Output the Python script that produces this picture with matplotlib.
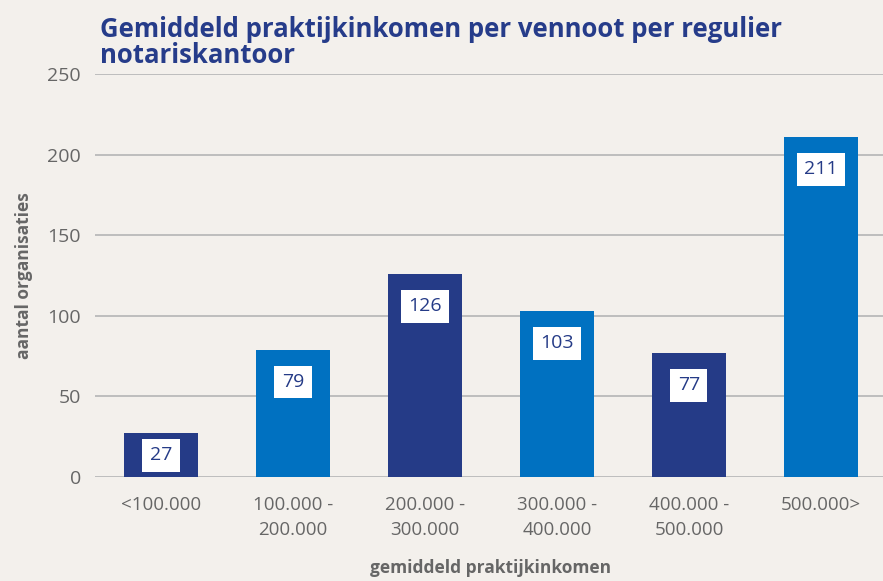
import matplotlib
matplotlib.use('Agg')
import matplotlib.pyplot as plt

categories = ['<100.000', '100.000 -\n200.000', '200.000 -\n300.000',
              '300.000 -\n400.000', '400.000 -\n500.000', '500.000>']
values = [27, 79, 126, 103, 77, 211]
y_ticks = [0, 50, 100, 150, 200, 250]

dark = '#253b87'
light = '#0071c1'
bg = '#f3f0ec'
grey = '#666666'
bar_colors = [dark, light, dark, light, dark, light]

plt.rcParams['font.family'] = ['Open Sans', 'DejaVu Sans']

fig = plt.figure(figsize=(8.83, 5.81), dpi=100, facecolor=bg)
ax = fig.add_axes([0.1076, 0.179, 0.8924, 0.6936], facecolor=bg)

x = range(len(categories))
bars = ax.bar(x, values, width=0.56, color=bar_colors, zorder=3)

ax.set_ylim(0, 250)
ax.set_xlim(-0.5, 5.47)
ax.set_yticks(y_ticks)
ax.set_xticks(list(x))
ax.set_xticklabels(categories, fontsize=13.5, color=grey, linespacing=1.45)
ax.tick_params(axis='y', labelsize=14, labelcolor=grey, length=0, pad=10)
ax.tick_params(axis='x', length=0, pad=14)
ax.grid(axis='y', color='#bdbdbd', linewidth=1.4, zorder=0)
for s in ax.spines.values():
    s.set_visible(False)

# labels in white boxes inside the bars
for b, v in zip(bars, values):
    cx = b.get_x() + b.get_width() / 2
    ypos = max(v - 20, v / 2)
    ax.text(cx, ypos, str(v), ha='center', va='center', fontsize=14, color=dark,
            bbox=dict(boxstyle='square,pad=0.38', fc='white', ec='none'), zorder=4)

ax.set_ylabel('aantal organisaties', fontsize=12.5, fontweight='bold', color=grey, labelpad=10)
fig.text(0.556, 0.022, 'gemiddeld praktijkinkomen', fontsize=12.5, fontweight='bold',
         color=grey, ha='center', va='center')

fig.text(0.113, 0.972, 'Gemiddeld praktijkinkomen per vennoot per regulier\nnotariskantoor',
         fontsize=18.5, fontweight='bold', color='#263c8a', va='top', ha='left', linespacing=0.95)

fig.savefig('out.png', dpi=100, facecolor=bg)
